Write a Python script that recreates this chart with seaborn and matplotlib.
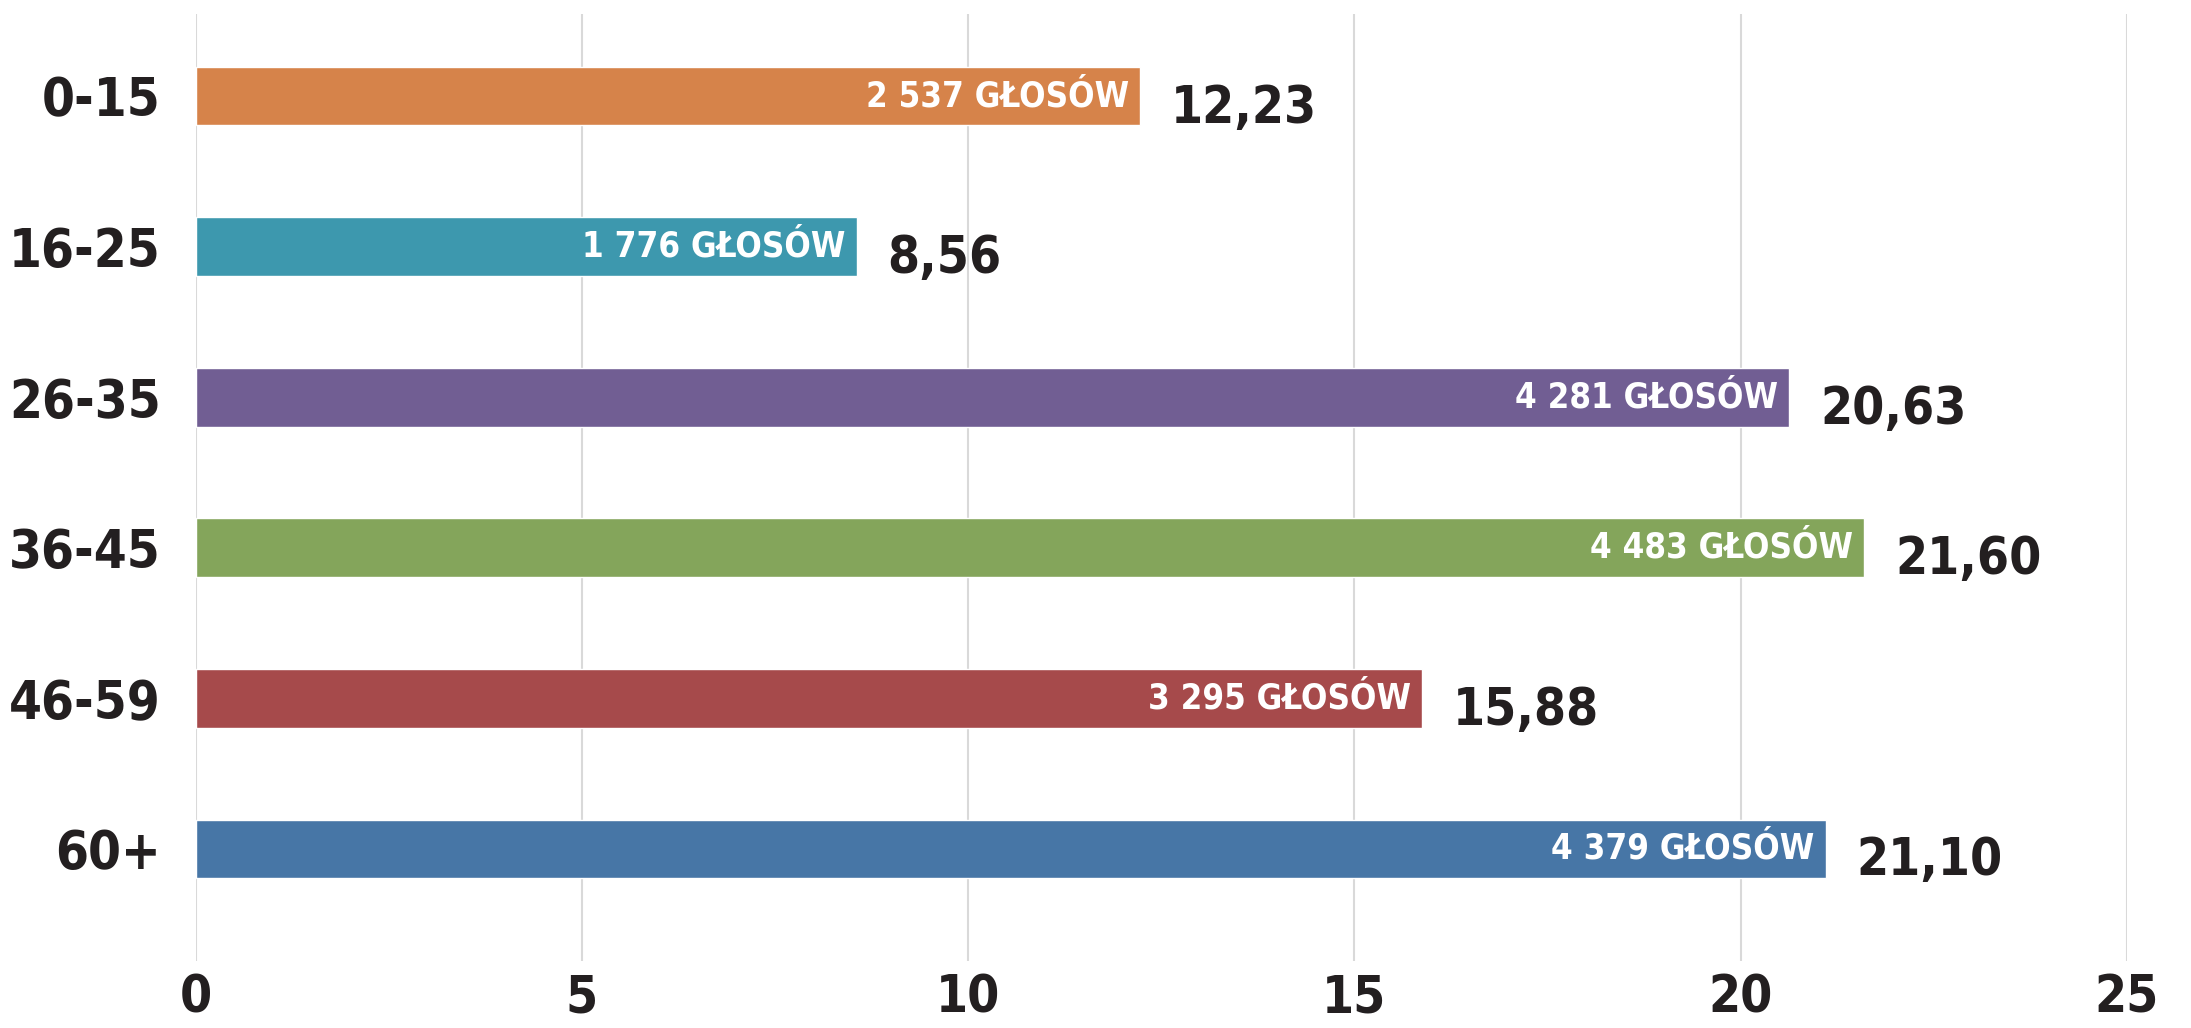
import matplotlib
matplotlib.use("Agg")
import matplotlib.pyplot as plt
import seaborn as sns
import pandas as pd

# data
groups = ["0-15", "16-25", "26-35", "36-45", "46-59", "60+"]
percent = [12.23, 8.56, 20.63, 21.60, 15.88, 21.10]
votes = ["2 537", "1 776", "4 281", "4 483", "3 295", "4 379"]
colors = ["#D6834A", "#3D98AE", "#715E93", "#84A55B", "#A64A4B", "#4776A6"]
xticks = [0, 5, 10, 15, 20, 25]

df = pd.DataFrame({"group": groups, "percent": percent})

sns.set_theme(style="white")
plt.rcParams["font.family"] = ["DejaVu Sans"]
plt.rcParams["font.stretch"] = "condensed"

fig = plt.figure(figsize=(21.91, 10.28), dpi=100)
ax = fig.add_axes([0.0893, 0.0652, 0.8815, 0.9212])

sns.barplot(data=df, x="percent", y="group", hue="group", palette=colors,
            orient="h", width=0.39, legend=False, saturation=1, ax=ax, zorder=3)

ax.set_xlim(0, 25)
ax.set_ylim(5.744, -0.545)
ax.set_xticks(xticks)
ax.xaxis.grid(True, color="#D9D9D9", linewidth=1.5, zorder=0)
ax.yaxis.grid(False)
for s in ax.spines.values():
    s.set_visible(False)
ax.tick_params(axis="both", length=0, colors="#231F20")
ax.tick_params(axis="y", pad=25, labelsize=38)
ax.tick_params(axis="x", pad=9, labelsize=37)
for lab in ax.get_xticklabels() + ax.get_yticklabels():
    lab.set_fontweight("bold")
    lab.set_fontstretch("condensed")
ax.set_xlabel("")
ax.set_ylabel("")

# labels inside and next to the bars
for i, (v, n) in enumerate(zip(percent, votes)):
    ax.annotate(f"{n} GŁOSÓW", xy=(v, i), xytext=(-8, 0), textcoords="offset points",
                ha="right", va="center", color="white", fontsize=25, fontweight="bold",
                fontstretch="condensed", zorder=4)
    ax.annotate(f"{v:.2f}".replace(".", ","), xy=(v, i), xytext=(22, -9),
                textcoords="offset points", ha="left", va="center",
                color="#231F20", fontsize=37, fontweight="bold",
                fontstretch="condensed", zorder=4)

fig.savefig("out.png", dpi=100)
